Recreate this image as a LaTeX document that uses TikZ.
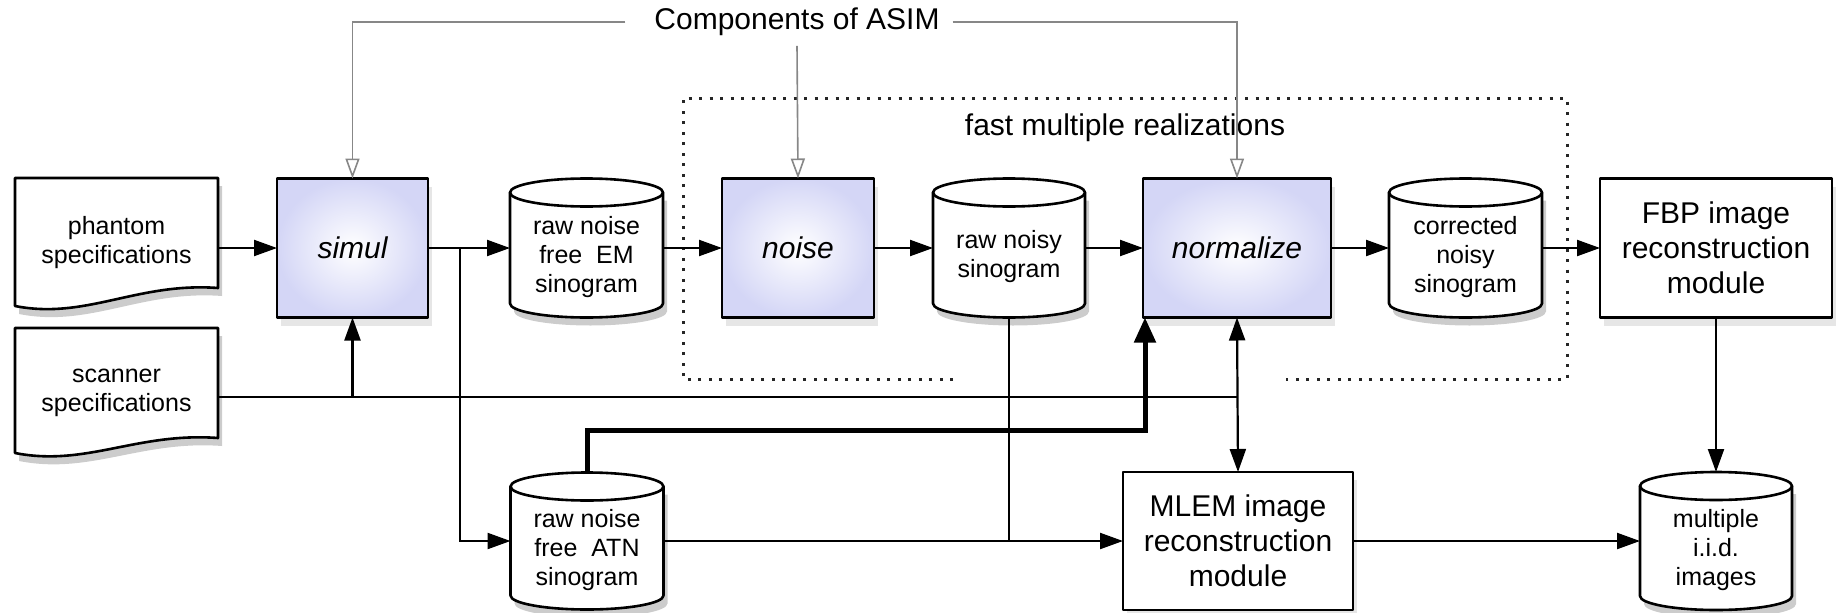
\documentclass[tikz,border=0pt]{standalone}
\usepackage{fontspec}
\setmainfont{Liberation Sans}
\usetikzlibrary{arrows.meta,shadows}
\definecolor{procblue}{RGB}{212,214,246}
\definecolor{asimgray}{RGB}{135,135,135}
\newcommand\cylry{14}
\newcommand\mycyl[6]{%
  \fill[black,opacity=0.2,shift={(4,8)}] ({#2-#4/2},{#3-#5/2+\cylry}) -- ({#2-#4/2},{#3+#5/2-\cylry}) .. controls ({#2-#4/2},{#3+#5/2-\cylry+0.5523*\cylry}) and ({#2-0.5523*#4/2},{#3+#5/2}) .. ({#2},{#3+#5/2}) .. controls ({#2+0.5523*#4/2},{#3+#5/2}) and ({#2+#4/2},{#3+#5/2-\cylry+0.5523*\cylry}) .. ({#2+#4/2},{#3+#5/2-\cylry}) -- ({#2+#4/2},{#3-#5/2+\cylry}) -- cycle;
  \filldraw[boxline,fill=white] ({#2-#4/2},{#3-#5/2+\cylry}) -- ({#2-#4/2},{#3+#5/2-\cylry}) .. controls ({#2-#4/2},{#3+#5/2-\cylry+0.5523*\cylry}) and ({#2-0.5523*#4/2},{#3+#5/2}) .. ({#2},{#3+#5/2}) .. controls ({#2+0.5523*#4/2},{#3+#5/2}) and ({#2+#4/2},{#3+#5/2-\cylry+0.5523*\cylry}) .. ({#2+#4/2},{#3+#5/2-\cylry}) -- ({#2+#4/2},{#3-#5/2+\cylry}) -- cycle;
  \filldraw[boxline,fill=white] ({#2},{#3-#5/2+\cylry}) ellipse [x radius={#4/2}, y radius=\cylry];
  \node[minimum width=#4pt, minimum height=#5pt] (#1) at (#2,#3) {};
  \node[smalltext] (#1-t) at (#2,{#3+9}) {#6};
}
\begin{document}
\begin{tikzpicture}[x=1pt,y=-1pt,
  every node/.style={inner sep=0pt, outer sep=0pt},
  boxline/.style={draw=black, line width=2.6pt, line join=round},
  smalltext/.style={align=center, font=\fontsize{25}{29}\selectfont},
  bigtext/.style={align=center, font=\fontsize{30}{35}\selectfont},
  proc/.style={boxline, shading=radial, inner color=white, outer color=procblue,
    drop shadow={shadow xshift=4pt, shadow yshift=-8pt, opacity=0.2},
    font=\fontsize{30}{35}\selectfont\itshape},
  plainbox/.style={boxline, fill=white,
    drop shadow={shadow xshift=4pt, shadow yshift=-8pt, opacity=0.2}, bigtext},
  ln/.style={draw=black, line width=2.2pt},
  arr/.style={ln, -{Triangle[length=23pt, width=16pt]}},
  dblarr/.style={ln, {Triangle[length=23pt, width=16pt]}-{Triangle[length=23pt, width=16pt]}},
  thickarr/.style={draw=black, line width=5pt, -{Triangle[length=25pt, width=21pt]}},
  grayarr/.style={draw=asimgray, line width=1.6pt, -{Triangle[open, length=20pt, width=14pt]}},
  frame/.style={draw=black!85, line width=3pt, dash pattern=on 3pt off 7.5pt},
]
\useasboundingbox (0,0) rectangle (1839,613);

% dotted frame
\draw[frame] (953,379) -- (683,379) -- (683,98) -- (1567,98) -- (1567,379) -- (1286,379);
\node[bigtext] (fmr) at (1125,128) {fast multiple realizations};

% documents
\fill[black,opacity=0.2,shift={(4,8)}] (15,178) -- (218,178) -- (218,288) .. controls (137,282) and (86,320) .. (15,306) -- cycle;
\filldraw[boxline,fill=white] (15,178) -- (218,178) -- (218,288) .. controls (137,282) and (86,320) .. (15,306) -- cycle;
\node[minimum width=203pt, minimum height=142pt] (phantom) at (116.5,248) {};
\node[smalltext] (phantom-t) at (116.5,243) {phantom\\specifications};

\fill[black,opacity=0.2,shift={(4,8)}] (15,328) -- (218,328) -- (218,438) .. controls (137,432) and (86,467) .. (15,453) -- cycle;
\filldraw[boxline,fill=white] (15,328) -- (218,328) -- (218,438) .. controls (137,432) and (86,467) .. (15,453) -- cycle;
\node[minimum width=203pt, minimum height=138pt] (scanner) at (116.5,397) {};
\node[smalltext] (scanner-t) at (116.5,393) {scanner\\specifications};

% process boxes
\node[proc, minimum width=151pt, minimum height=139pt] (simul) at (352.5,248) {simul};
\node[proc, minimum width=152pt, minimum height=139pt] (noise) at (798,248) {noise};
\node[proc, minimum width=188pt, minimum height=139pt] (normalize) at (1237,248) {normalize};
\node[plainbox, minimum width=232pt, minimum height=139pt] (fbp) at (1716,248) {FBP image\\reconstruction\\module};
\node[plainbox, minimum width=230pt, minimum height=138pt] (mlem) at (1238,541) {MLEM image\\reconstruction\\module};

% cylinders
\mycyl{em}{586.5}{248}{153}{139}{raw noise\\free\ \ EM\\sinogram}
\mycyl{noisy}{1009}{248}{152}{139}{raw noisy\\sinogram}
\mycyl{corrected}{1465.5}{248}{153}{139}{corrected\\noisy\\sinogram}
\mycyl{atn}{587}{541}{153}{137}{raw noise\\free\ \ ATN\\sinogram}
\mycyl{multiple}{1716}{541}{152}{138}{multiple\\i.i.d.\\images}

% Components of ASIM
\node[bigtext] (comp) at (797,22) {Components of ASIM};
\draw[grayarr] ([xshift=-29pt]comp.west) -| (simul.north);
\draw[grayarr] ([yshift=-10pt]comp.south) -- (noise.north);
\draw[grayarr] ([xshift=13pt]comp.east) -| (normalize.north);

% main flow
\draw[arr] (phantom.east) -- (simul.west);
\draw[arr] (simul.east) -- (em.west);
\coordinate (br) at (460,248);
\draw[arr] (br) |- (atn.west);
\draw[arr] (em.east) -- (noise.west);
\draw[arr] (noise.east) -- (noisy.west);
\draw[arr] (noisy.east) -- (normalize.west);
\draw[arr] (normalize.east) -- (corrected.west);
\draw[arr] (corrected.east) -- (fbp.west);
\draw[arr] (fbp.south) -- (multiple.north);

% scanner feed
\coordinate (sj) at (normalize.south |- scanner.east);
\draw[ln] (scanner.east) -- (sj);
\draw[arr] (simul.south |- scanner.east) -- (simul.south);
\draw[dblarr] (normalize.south) -- (mlem.north);

% attenuation feed
\coordinate (thk) at (1145,430);
\draw[thickarr] (atn.north) |- (thk) -- (thk |- normalize.south);
\draw[ln] (noisy.south) -- (noisy.south |- atn.east);
\draw[arr] (atn.east) -- (mlem.west);
\draw[arr] (mlem.east) -- (multiple.west);
\end{tikzpicture}
\end{document}
